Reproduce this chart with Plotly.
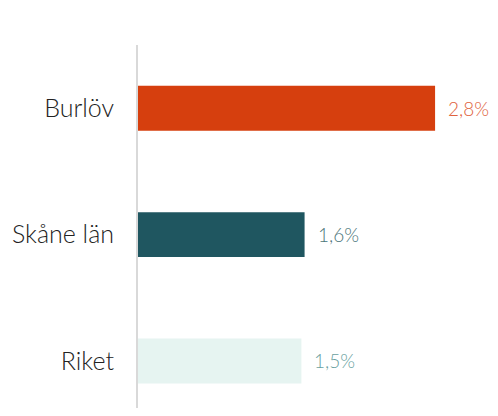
import plotly.graph_objects as go

categories = ["Burlöv", "Skåne län", "Riket"]
values = [2.8, 1.57, 1.54]
value_labels = ["2,8%", "1,6%", "1,5%"]
bar_colors = ["#D63F0E", "#1F5660", "#E6F4F1"]
label_colors = ["#E0623C", "#4A7479", "#6A9FA0"]

FONT = "Lato"

fig = go.Figure(
    go.Bar(
        x=values,
        y=categories,
        orientation="h",
        marker=dict(color=bar_colors, line=dict(width=0)),
        width=0.355,
        hoverinfo="skip",
    )
)

for cat, val, lab, col in zip(categories, values, value_labels, label_colors):
    fig.add_annotation(
        x=val, y=cat, text=lab, showarrow=False,
        xanchor="left", yanchor="middle", xshift=11,
        font=dict(family=FONT, size=19, color=col, weight=300),
    )

fig.update_layout(
    width=490, height=400,
    margin=dict(l=130, r=0, t=37, b=0),
    paper_bgcolor="white", plot_bgcolor="white",
    showlegend=False,
    font=dict(family=FONT),
    xaxis=dict(range=[0, 3.393], visible=False, fixedrange=True),
    yaxis=dict(
        range=[2.372, -0.5],
        showline=True, linecolor="#D9D9D9", linewidth=2,
        showgrid=False, zeroline=False, ticks="",
        ticklabelstandoff=17,
        tickfont=dict(family=FONT, size=25, color="#222222", weight=300),
        fixedrange=True,
    ),
)

fig.write_html("out.html")
